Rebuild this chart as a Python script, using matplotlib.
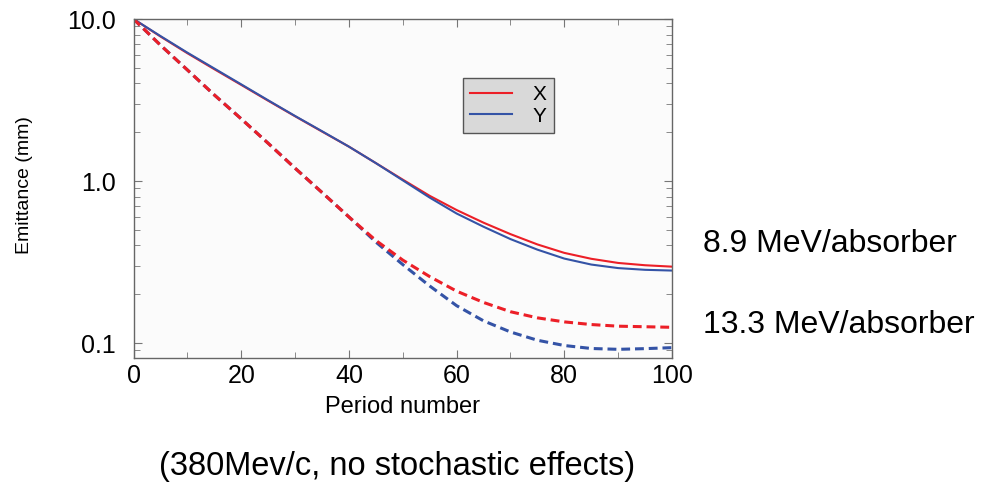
import matplotlib
matplotlib.use("Agg")
import matplotlib.pyplot as plt
from matplotlib.ticker import FixedLocator, NullFormatter

plt.rcParams["font.family"] = ["Liberation Sans", "DejaVu Sans"]

# period number sample points
period = [0, 5, 10, 15, 20, 25, 30, 35, 40, 45, 50, 55, 60, 65, 70, 75, 80, 85, 90, 95, 100]

# 8.9 MeV/absorber (solid)
x_89 = [10.0, 7.8, 6.15, 4.9, 3.92, 3.13, 2.51, 2.02, 1.63, 1.29, 1.02, 0.81, 0.662, 0.553, 0.470, 0.406, 0.360, 0.331, 0.312, 0.302, 0.296]
y_89 = [10.0, 7.85, 6.2, 4.95, 3.95, 3.15, 2.52, 2.03, 1.63, 1.29, 1.01, 0.79, 0.630, 0.522, 0.438, 0.377, 0.332, 0.305, 0.290, 0.283, 0.280]

# 13.3 MeV/absorber (dashed)
x_133 = [10.0, 6.9, 4.85, 3.4, 2.42, 1.71, 1.20, 0.85, 0.60, 0.43, 0.325, 0.257, 0.209, 0.178, 0.156, 0.143, 0.135, 0.130, 0.127, 0.126, 0.125]
y_133 = [10.0, 6.9, 4.85, 3.4, 2.42, 1.71, 1.20, 0.85, 0.60, 0.42, 0.305, 0.225, 0.170, 0.137, 0.117, 0.104, 0.0965, 0.0925, 0.0914, 0.0923, 0.0936]

RED = "#ec1f27"
BLUE = "#3453a6"

fig = plt.figure(figsize=(9.87, 4.83), dpi=100)
ax = fig.add_axes([133.5 / 987, 1 - 358 / 483, (672 - 133.5) / 987, (358 - 19) / 483])
ax.set_facecolor("#fbfbfb")

lx, = ax.plot(period, x_89, color=RED, lw=1.5, label="X")
ly, = ax.plot(period, y_89, color=BLUE, lw=1.5, label="Y")
ax.plot(period, y_133, color=BLUE, lw=2.2, ls=(0, (2.9, 1.6)))
ax.plot(period, x_133, color=RED, lw=2.2, ls=(0, (2.9, 1.6)))

ax.set_yscale("log")
ax.set_xlim(0, 100)
ax.set_ylim(0.0808, 10.0)
ax.yaxis.set_major_locator(FixedLocator([0.1, 1.0, 10.0]))
ax.set_yticklabels(["0.1", "1.0", "10.0"])
ax.yaxis.set_minor_locator(FixedLocator([k * d for d in (0.01, 0.1, 1.0) for k in range(2, 10)]))
ax.yaxis.set_minor_formatter(NullFormatter())
ax.set_xticks([0, 20, 40, 60, 80, 100])
ax.set_xticks([10, 30, 50, 70, 90], minor=True)

for s in ax.spines.values():
    s.set_color("#666666")
    s.set_linewidth(1.0)
ax.tick_params(which="both", direction="in", color="#777777", right=True, top=True, labelsize=18)
ax.tick_params(which="major", length=6)
ax.tick_params(which="minor", length=4)
ax.tick_params(axis="x", pad=4)
ax.tick_params(axis="y", pad=13)

ax.set_xlabel("Period number", fontsize=17, labelpad=6)
ax.set_ylabel("Emittance (mm)", fontsize=14)
ax.yaxis.set_label_coords(-0.187, 0.51)

leg = ax.legend(handles=[lx, ly], loc="upper left", bbox_to_anchor=(0.612, 0.826),
                borderaxespad=0, fontsize=15, fancybox=False, framealpha=1,
                handlelength=2.0, handletextpad=1.0, borderpad=0.35, labelspacing=0.12)
leg.get_frame().set_facecolor("#d9d9d9")
leg.get_frame().set_edgecolor("#555555")

fig.text(703 / 987, 1 - 244 / 483, "8.9 MeV/absorber", fontsize=23, va="center", ha="left")
fig.text(703 / 987, 1 - 325 / 483, "13.3 MeV/absorber", fontsize=23, va="center", ha="left")
fig.text(397 / 987, 1 - 466 / 483, "(380Mev/c, no stochastic effects)", fontsize=23.5, va="center", ha="center")

fig.savefig("out.png", dpi=100)
